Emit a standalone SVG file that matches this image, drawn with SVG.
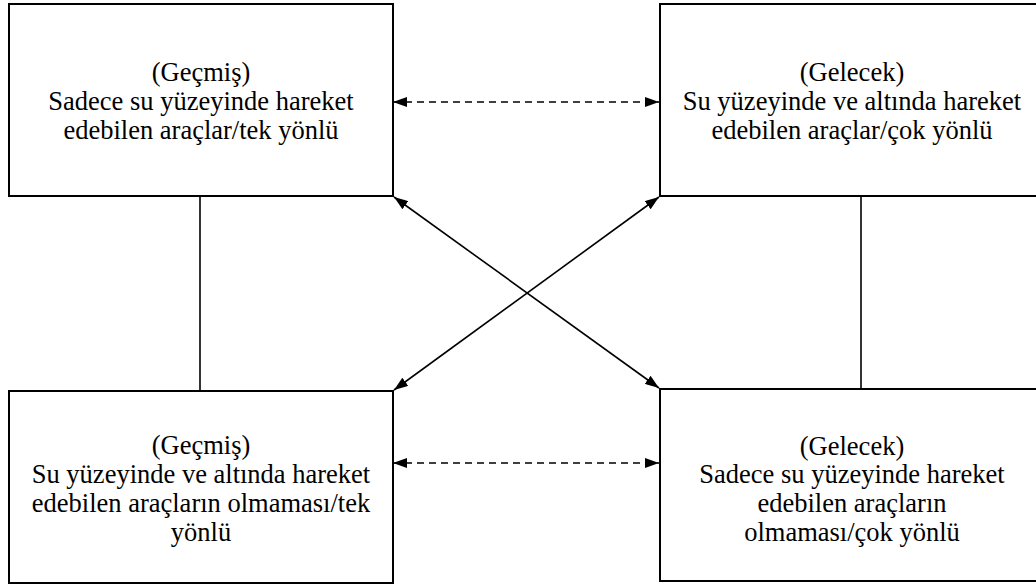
<svg xmlns="http://www.w3.org/2000/svg" width="1036" height="585" viewBox="0 0 1036 585">
  <style>
    .box { fill: #ffffff; stroke: #000000; stroke-width: 2; }
    .lbl { font-family: "Liberation Serif", "Times New Roman", serif; font-size: 26.5px; fill: #000000; text-anchor: middle; }
    .link { stroke: #000000; stroke-width: 1.6; fill: none; }
    .dash { stroke-dasharray: 7 5; }
  </style>
  <defs>
    <marker id="head" viewBox="0 0 14 10" refX="14" refY="5" markerWidth="14" markerHeight="10" markerUnits="userSpaceOnUse" orient="auto-start-reverse">
      <path d="M0,0 L14,5 L0,10 Z" fill="#000000"/>
    </marker>
  </defs>
  <rect x="0" y="0" width="1036" height="585" fill="#ffffff"/>

  <g id="connectors">
    <line class="link" x1="200" y1="196" x2="200" y2="391"/>
    <line class="link" x1="861" y1="196" x2="861" y2="389"/>
    <line class="link dash" x1="393" y1="102" x2="659" y2="102" marker-start="url(#head)" marker-end="url(#head)"/>
    <line class="link dash" x1="393" y1="463" x2="659" y2="463" marker-start="url(#head)" marker-end="url(#head)"/>
    <line class="link" x1="394" y1="197" x2="659" y2="388" marker-start="url(#head)" marker-end="url(#head)"/>
    <line class="link" x1="659" y1="197" x2="394" y2="390" marker-start="url(#head)" marker-end="url(#head)"/>
  </g>

  <g id="past-surface">
    <rect class="box" x="9" y="4" width="384" height="192"/>
    <text class="lbl" x="201" y="81">(Geçmiş)</text>
    <text class="lbl" x="201" y="110">Sadece su yüzeyinde hareket</text>
    <text class="lbl" x="201" y="139">edebilen araçlar/tek yönlü</text>
  </g>

  <g id="future-multi">
    <rect class="box" x="660" y="4" width="384" height="192"/>
    <text class="lbl" x="852" y="81">(Gelecek)</text>
    <text class="lbl" x="852" y="110">Su yüzeyinde ve altında hareket</text>
    <text class="lbl" x="852" y="139">edebilen araçlar/çok yönlü</text>
  </g>

  <g id="past-none">
    <rect class="box" x="9" y="391" width="384" height="192"/>
    <text class="lbl" x="201" y="454">(Geçmiş)</text>
    <text class="lbl" x="201" y="483">Su yüzeyinde ve altında hareket</text>
    <text class="lbl" x="201" y="512">edebilen araçların olmaması/tek</text>
    <text class="lbl" x="201" y="541">yönlü</text>
  </g>

  <g id="future-none">
    <rect class="box" x="660" y="389" width="384" height="192"/>
    <text class="lbl" x="852" y="455">(Gelecek)</text>
    <text class="lbl" x="852" y="483">Sadece su yüzeyinde hareket</text>
    <text class="lbl" x="852" y="512">edebilen araçların</text>
    <text class="lbl" x="852" y="541">olmaması/çok yönlü</text>
  </g>
</svg>
